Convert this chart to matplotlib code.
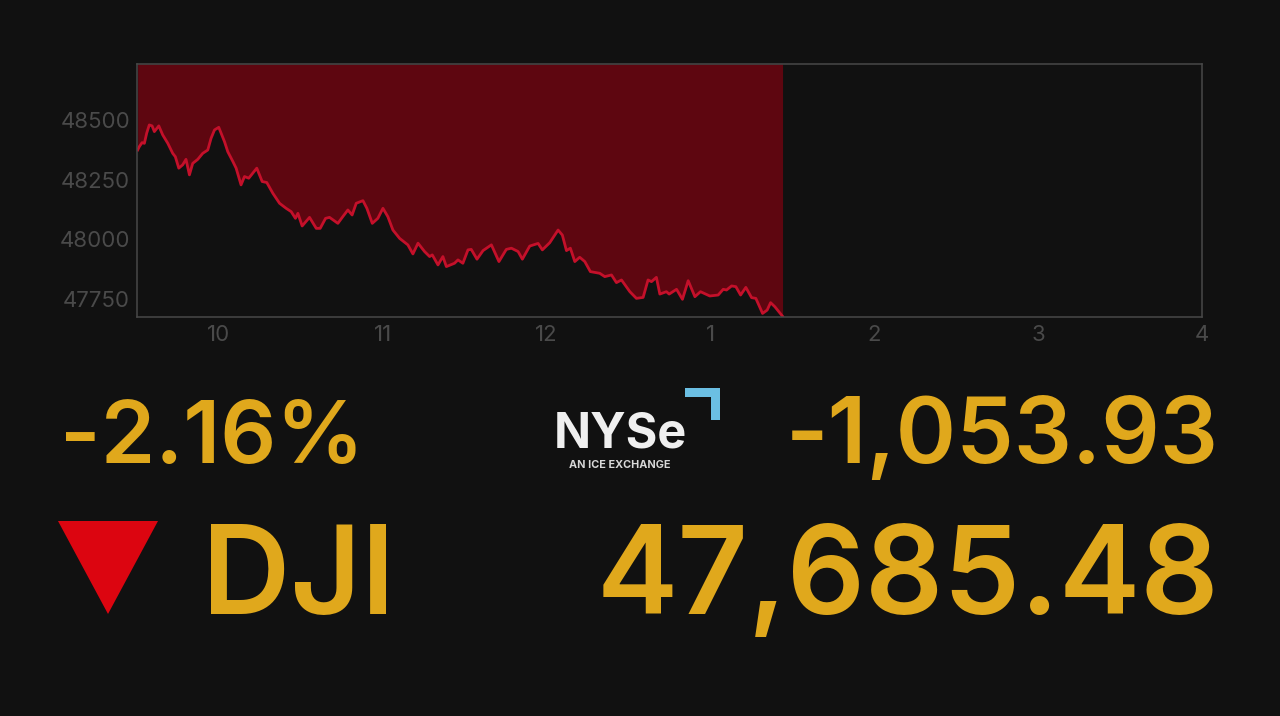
import matplotlib
matplotlib.use("Agg")
import matplotlib.pyplot as plt
from matplotlib.patches import Polygon

BG = "#111111"
GOLD = "#E0A81C"

hours = [9.504, 9.514, 9.531, 9.545, 9.559, 9.575, 9.592, 9.606, 9.633, 9.657, 9.688, 9.718, 9.734, 9.755,
         9.779, 9.799, 9.820, 9.840, 9.871, 9.901, 9.932, 9.952, 9.973, 9.999, 10.034, 10.054, 10.085, 10.105,
         10.135, 10.156, 10.182, 10.231, 10.264, 10.292, 10.329, 10.370, 10.410, 10.441, 10.467, 10.482, 10.508,
         10.553, 10.594, 10.618, 10.651, 10.675, 10.726, 10.756, 10.787, 10.813, 10.838, 10.879, 10.903, 10.936,
         10.970, 11.001, 11.031, 11.062, 11.103, 11.153, 11.184, 11.215, 11.255, 11.286, 11.302, 11.337, 11.367,
         11.388, 11.438, 11.459, 11.489, 11.520, 11.540, 11.575, 11.612, 11.663, 11.709, 11.754, 11.785, 11.826,
         11.852, 11.897, 11.948, 11.974, 12.019, 12.070, 12.096, 12.121, 12.145, 12.172, 12.202, 12.233, 12.267,
         12.324, 12.355, 12.396, 12.426, 12.457, 12.508, 12.548, 12.589, 12.619, 12.640, 12.670, 12.691, 12.731,
         12.748, 12.793, 12.829, 12.864, 12.905, 12.939, 12.996, 13.047, 13.078, 13.098, 13.129, 13.155, 13.184,
         13.216, 13.251, 13.277, 13.318, 13.346, 13.367, 13.393, 13.440]
prices = [48374, 48388, 48405, 48402, 48444, 48479, 48475, 48451, 48475, 48437, 48402, 48360, 48346, 48298,
          48312, 48335, 48270, 48318, 48335, 48360, 48374, 48423, 48458, 48469, 48409, 48367, 48326, 48298,
          48228, 48263, 48256, 48298, 48242, 48238, 48193, 48151, 48130, 48116, 48088, 48109, 48056,
          48092, 48046, 48046, 48088, 48092, 48067, 48095, 48123, 48102, 48151, 48162, 48130, 48067,
          48088, 48130, 48095, 48039, 48004, 47977, 47939, 47984, 47949, 47928, 47935, 47893, 47928,
          47886, 47900, 47914, 47900, 47956, 47958, 47917, 47953, 47977, 47907, 47958, 47963, 47949,
          47917, 47972, 47983, 47956, 47986, 48039, 48018, 47953, 47963, 47907, 47925, 47907, 47865,
          47858, 47844, 47851, 47819, 47830, 47781, 47753, 47757, 47830, 47823, 47841, 47771, 47781,
          47771, 47791, 47749, 47827, 47760, 47781, 47763, 47767, 47791, 47788, 47805, 47802, 47767,
          47799, 47756, 47753, 47690, 47704, 47735, 47718, 47678]

y_ticks = [47750, 48000, 48250, 48500]
x_ticks = [10, 11, 12, 13, 14, 15, 16]
x_labels = ["10", "11", "12", "1", "2", "3", "4"]

pct_change = "-2.16%"
pt_change = "-1,053.93"
index_name = "DJI"
last_price = "47,685.48"

W, H = 1280, 716
plt.rcParams["font.family"] = ["Inter", "DejaVu Sans"]
fig = plt.figure(figsize=(W / 100, H / 100), dpi=100, facecolor=BG)

# chart area, pixel box from the reference
ax = fig.add_axes([137 / W, 1 - 317 / H, (1202 - 137) / W, (317 - 64) / H], facecolor=BG)
top = 48734
ax.fill_between(hours, prices, top, color="#5E0610", lw=0)
ax.plot(hours, prices, color="#C4102A", lw=2)
ax.set_xlim(9.5, 16)
ax.set_ylim(47675, top)
ax.set_xticks(x_ticks, x_labels)
ax.set_yticks(y_ticks, [str(v) for v in y_ticks])
ax.tick_params(length=0, colors="#4A4A4A", labelsize=16)
ax.tick_params(axis="x", pad=6)
ax.tick_params(axis="y", pad=5)
for s in ax.spines.values():
    s.set_color("#484848")
    s.set_linewidth(1.1)

# everything under the chart sits in pixel coordinates
ov = fig.add_axes([0, 0, 1, 1], facecolor="none")
ov.set_xlim(0, W)
ov.set_ylim(H, 0)
ov.axis("off")

ov.text(60, 463, pct_change, color=GOLD, fontsize=63, fontweight="semibold", ha="left", va="baseline")
ov.text(1219, 463, pt_change, color=GOLD, fontsize=66, fontweight="semibold", ha="right", va="baseline")
ov.text(202, 614, index_name, color=GOLD, fontsize=88, fontweight="semibold", ha="left", va="baseline")
ov.text(1219, 614, last_price, color=GOLD, fontsize=88, fontweight="semibold", ha="right", va="baseline")
ov.add_patch(Polygon([(58, 521), (158, 521), (108, 614)], color="#DC0510", lw=0))

ov.text(554, 447, "NYSe", color="#F0F0F0", fontsize=35, fontweight="bold", ha="left", va="baseline")
ov.text(569, 468, "AN ICE EXCHANGE", color="#D8D8D8", fontsize=7.8, fontweight="bold", ha="left", va="baseline")
ov.add_patch(Polygon([(685, 388), (720, 388), (720, 420), (711, 420), (711, 397), (685, 397)], color="#6BBFE3", lw=0))

fig.savefig("out.png", dpi=100, facecolor=BG)
